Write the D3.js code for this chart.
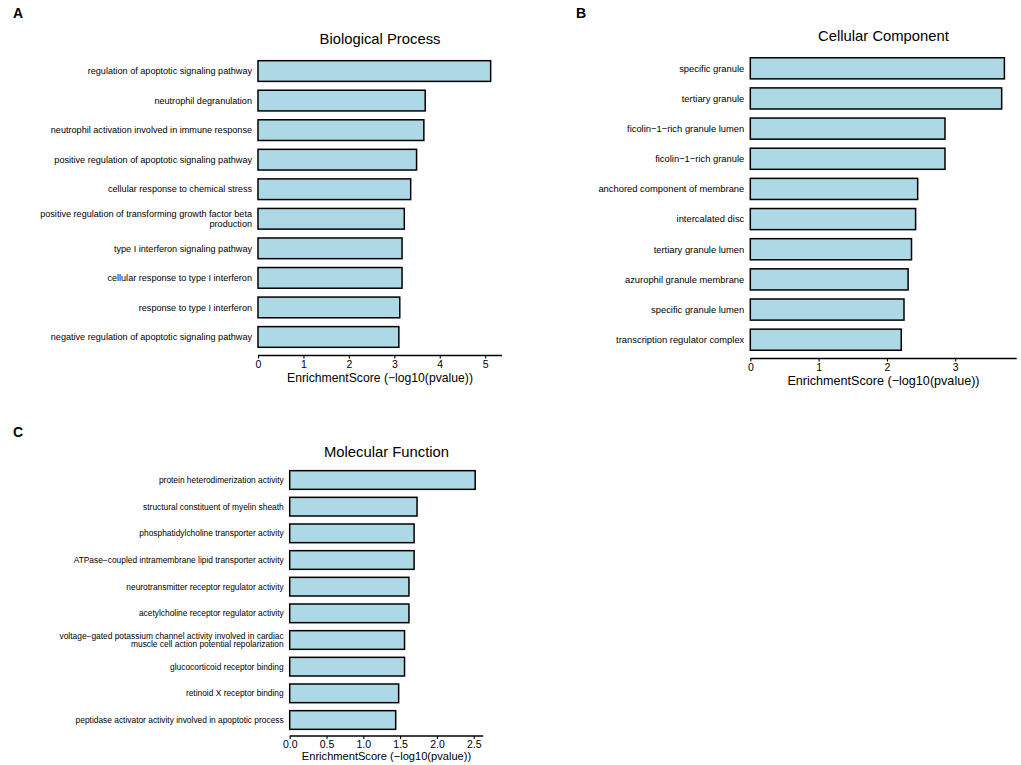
<!DOCTYPE html>
<html>
<head>
<meta charset="utf-8">
<script src="https://cdn.jsdelivr.net/npm/d3@7"></script>
<style>
  body { margin: 0; background: #fff; }
  text { font-family: "Liberation Sans", Arial, sans-serif; fill: #000; }
</style>
</head>
<body>
<svg id="fig" width="1021" height="765"></svg>
<script>

// ---- data ----
var bpTerms = ["regulation of apoptotic signaling pathway",
               "neutrophil degranulation",
               "neutrophil activation involved in immune response",
               "positive regulation of apoptotic signaling pathway",
               "cellular response to chemical stress",
               "positive regulation of transforming growth factor beta\nproduction",
               "type I interferon signaling pathway",
               "cellular response to type I interferon",
               "response to type I interferon",
               "negative regulation of apoptotic signaling pathway"];
var bpScores = [5.12, 3.68, 3.65, 3.49, 3.36, 3.22, 3.17, 3.17, 3.12, 3.10];
var bpTicks = [0, 1, 2, 3, 4, 5];

var ccTerms = ["specific granule",
               "tertiary granule",
               "ficolin−1−rich granule lumen",
               "ficolin−1−rich granule",
               "anchored component of membrane",
               "intercalated disc",
               "tertiary granule lumen",
               "azurophil granule membrane",
               "specific granule lumen",
               "transcription regulator complex"];
var ccScores = [3.72, 3.68, 2.85, 2.85, 2.45, 2.42, 2.36, 2.31, 2.25, 2.21];
var ccTicks = [0, 1, 2, 3];

var mfTerms = ["protein heterodimerization activity",
               "structural constituent of myelin sheath",
               "phosphatidylcholine transporter activity",
               "ATPase−coupled intramembrane lipid transporter activity",
               "neurotransmitter receptor regulator activity",
               "acetylcholine receptor regulator activity",
               "voltage−gated potassium channel activity involved in cardiac\nmuscle cell action potential repolarization",
               "glucocorticoid receptor binding",
               "retinoid X receptor binding",
               "peptidase activator activity involved in apoptotic process"];
var mfScores = [2.52, 1.73, 1.69, 1.69, 1.62, 1.62, 1.56, 1.56, 1.48, 1.44];
var mfTicks = [0, 0.5, 1, 1.5, 2, 2.5];

var axisTitle = "EnrichmentScore (−log10(pvalue))";

var svg = d3.select("#fig");

function draw_panel( p ){
    var g = svg.append("g");

    var x = d3.scaleLinear().domain([0, p.xmax]).range([p.left, p.right]);
    var y = d3.scaleBand().domain(p.terms).range([p.top, p.bottom])
              .paddingInner(0.3).paddingOuter(0.25);

    var rows = p.terms.map(function(t, i){ return {term: t, score: p.scores[i]}; });

    // bars
    g.append("g").selectAll("rect")
        .data(rows)
        .enter().append("rect")
        .attr("x", x(0))
        .attr("y", function(d){ return y(d.term); })
        .attr("width", function(d){ return x(d.score) - x(0); })
        .attr("height", y.bandwidth())
        .attr("fill", "#add8e6")
        .attr("stroke", "#000")
        .attr("stroke-width", 1.5);

    // category labels (right aligned, may wrap)
    var lab = g.append("g").selectAll("text")
        .data(rows)
        .enter().append("text")
        .attr("text-anchor", "end")
        .style("font-size", p.labSize + "px")
        .attr("transform", function(d){
            return "translate(" + (p.left - 6) + "," + (y(d.term) + y.bandwidth()/2) + ")";
        });
    lab.each(function(d){
        var lines = d.term.split("\n");
        var t = d3.select(this);
        lines.forEach(function(l, k){
            t.append("tspan")
             .attr("x", 0)
             .attr("y", (k - (lines.length-1)/2) * p.lineGap)
             .attr("dy", "0.35em")
             .text(l);
        });
    });

    // x axis
    var ax = g.append("g")
        .attr("transform", "translate(0," + p.axisY + ")")
        .call(d3.axisBottom(x).tickValues(p.ticks).tickSize(3).tickPadding(2)
                .tickFormat(p.fmt ? d3.format(p.fmt) : d3.format("d")));
    ax.select(".domain").attr("stroke-width", 1.3).attr("d", "M" + p.left + ",0H" + p.right);
    ax.selectAll(".tick line").attr("stroke-width", 1.1);
    ax.selectAll(".tick text").style("font-size", "10.5px").attr("font-family", "Liberation Sans, Arial");

    // titles
    g.append("text")
        .attr("text-anchor", "middle")
        .style("font-size", "14.8px")
        .attr("x", (p.left + p.right)/2)
        .attr("y", p.titleY)
        .text(p.title);

    g.append("text")
        .attr("text-anchor", "middle")
        .style("font-size", p.axSize + "px")
        .attr("x", (p.left + p.right)/2)
        .attr("y", p.axTitleY)
        .text(axisTitle);

    g.append("text")
        .style("font-size", "14px")
        .style("font-weight", "bold")
        .attr("x", p.letterX)
        .attr("y", p.letterY)
        .text(p.letter);
}

draw_panel({ letter: "A", letterX: 13, letterY: 18, title: "Biological Process",
             terms: bpTerms, scores: bpScores, ticks: bpTicks, xmax: 5.37,
             left: 258, right: 502, top: 53.3, bottom: 354.7, axisY: 355.5,
             titleY: 44, axTitleY: 382, labSize: 9.1, axSize: 12.2, lineGap: 9.5 });

draw_panel({ letter: "B", letterX: 576, letterY: 18, title: "Cellular Component",
             terms: ccTerms, scores: ccScores, ticks: ccTicks, xmax: 3.9,
             left: 750.3, right: 1016.7, top: 50.2, bottom: 357.8, axisY: 358.5,
             titleY: 40.5, axTitleY: 385, labSize: 9.4, axSize: 12.6, lineGap: 9.5 });

draw_panel({ letter: "C", letterX: 13, letterY: 437, title: "Molecular Function",
             terms: mfTerms, scores: mfScores, ticks: mfTicks, xmax: 2.63, fmt: ".1f",
             left: 289.7, right: 483.3, top: 464, bottom: 736, axisY: 736,
             titleY: 456.5, axTitleY: 759.5, labSize: 8.4, axSize: 11.1, lineGap: 8.7 });

</script>
</body>
</html>
